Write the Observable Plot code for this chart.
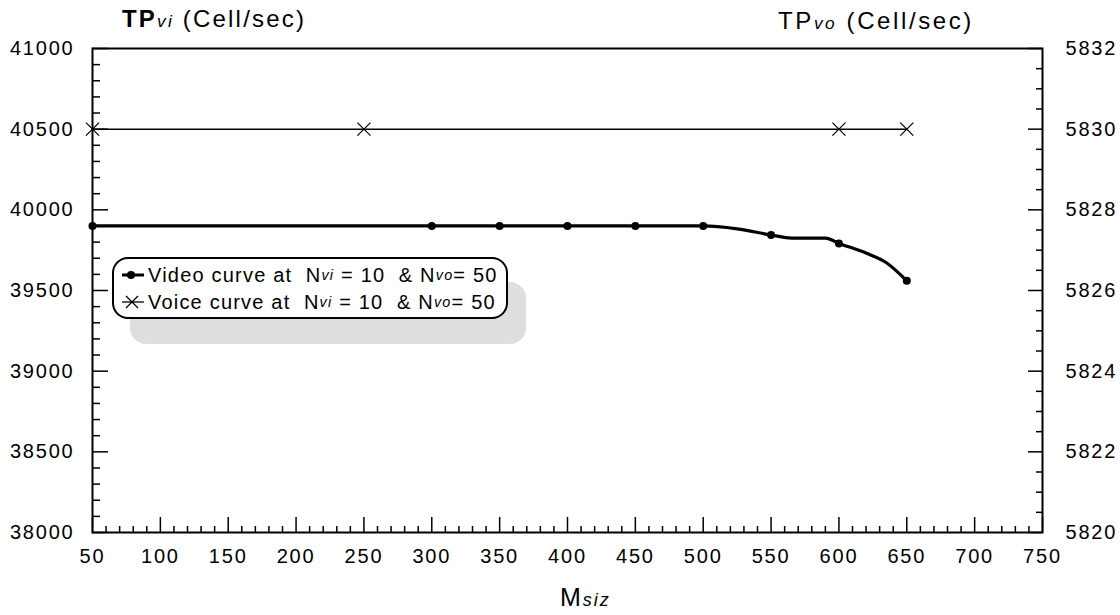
<!DOCTYPE html>
<html>
<head>
<meta charset="utf-8">
<script src="https://cdn.jsdelivr.net/npm/d3@7"></script>
<script src="https://cdn.jsdelivr.net/npm/@observablehq/plot@0.6"></script>
<style>
  html, body { margin: 0; padding: 0; background: #fff; }
  #wrap { position: relative; width: 1120px; height: 615px; font-family: "Liberation Sans", Arial, sans-serif; color: #000; }
  #wrap svg text { letter-spacing: 1.8px; }
  .ov { position: absolute; white-space: nowrap; line-height: 1; }
  .sub { font-style: italic; font-size: 0.72em; }
  #legend { position: absolute; left: 112px; top: 257px; width: 392px; height: 58px; border: 2px solid #000; border-radius: 16px; background: #fff; box-shadow: 18px 25px 0 #dedede; font-size: 20px; letter-spacing: 1.2px; }
  .lrow { position: absolute; left: 6px; height: 26px; display: flex; align-items: center; }
  .lrow svg { margin-right: 2px; }
</style>
</head>
<body>
<div id="wrap"></div>
<script>
// ---- data ----
const videoMarkX = [50, 300, 350, 400, 450, 500, 550, 600, 650];
const videoMarkY = [39900, 39900, 39900, 39900, 39900, 39900, 39844, 39792, 39560];
const videoLineX = [50, 300, 350, 400, 450, 500, 525, 550, 565, 590, 600, 620, 635, 650];
const videoLineY = [39900, 39900, 39900, 39900, 39900, 39900, 39882, 39844, 39825, 39825, 39792, 39732, 39672, 39560];
const voiceX = [50, 250, 600, 650];
const voiceY = [5830, 5830, 5830, 5830];
const xTicks = [50, 100, 150, 200, 250, 300, 350, 400, 450, 500, 550, 600, 650, 700, 750];
const leftTicks = [38000, 38500, 39000, 39500, 40000, 40500, 41000];
const rightTicks = [5820, 5822, 5824, 5826, 5828, 5830, 5832];

// right axis mapped onto left scale
const r2l = d3.scaleLinear([5820, 5832], [38000, 41000]);
const l2r = r2l.invert;

const W = 1120, H = 615;
const mL = 92, mR = 78, mT = 48, mB = 83;
const innerW = W - mL - mR, innerH = H - mT - mB;

const xMinor = d3.range(50, 751, 10).filter(v => v % 50 !== 0);
const leftMinor = d3.range(38000, 41001, 100).filter(v => v % 500 !== 0);
const rightMinor = d3.range(5820, 5832.01, 0.5).filter(v => Math.abs(v % 2) > 1e-9);

const video = videoLineX.map((x, i) => ({x, y: videoLineY[i]}));
const videoPts = videoMarkX.map((x, i) => ({x, y: videoMarkY[i]}));
const voice = voiceX.map((x, i) => ({x, y: r2l(voiceY[i])}));

const font = "Liberation Sans, Arial, sans-serif";

const chart = Plot.plot({
  width: W, height: H,
  marginLeft: mL, marginRight: mR, marginTop: mT, marginBottom: mB,
  style: {fontFamily: font, fontSize: "20px", background: "#fff", color: "#000"},
  x: {domain: [50, 750], axis: null},
  y: {domain: [38000, 41000], axis: null},
  marks: [
    // ticks (inside)
    Plot.tickX(xTicks, {x: d => d, insetTop: innerH - 15, strokeWidth: 1.5}),
    Plot.tickX(xMinor, {x: d => d, insetTop: innerH - 6, strokeWidth: 1.5}),
    Plot.tickY(leftTicks, {y: d => d, insetRight: innerW - 16, strokeWidth: 1.5}),
    Plot.tickY(leftMinor, {y: d => d, insetRight: innerW - 8, strokeWidth: 1.5}),
    Plot.tickY(rightTicks.map(r2l), {y: d => d, insetLeft: innerW - 14, strokeWidth: 1.5}),
    Plot.tickY(rightMinor.map(r2l), {y: d => d, insetLeft: innerW - 6, strokeWidth: 1.5}),
    // axis labels
    Plot.axisX({ticks: xTicks, tickSize: 0, tickPadding: 16, tickFormat: d => String(d), fontSize: 20, anchor: "bottom", label: null}),
    Plot.axisY({ticks: leftTicks, tickSize: 0, tickPadding: 18, tickFormat: d => String(d), fontSize: 20, anchor: "left", label: null}),
    Plot.axisY({ticks: rightTicks.map(r2l), tickSize: 0, tickPadding: 23, tickFormat: d => String(Math.round(l2r(d))), fontSize: 20, anchor: "right", label: null}),
    Plot.frame({stroke: "#000", strokeWidth: 2}),
    // voice
    Plot.line(voice, {x: "x", y: "y", stroke: "#000", strokeWidth: 1.5}),
    Plot.dot(voice, {x: "x", y: "y", symbol: "times", r: 6, stroke: "#000", strokeWidth: 1.2}),
    // video
    Plot.line(video, {x: "x", y: "y", stroke: "#000", strokeWidth: 3.2, curve: "monotone-x"}),
    Plot.dot(videoPts, {x: "x", y: "y", r: 4, fill: "#000", stroke: "none"})
  ]
});

const wrap = document.getElementById("wrap");
wrap.appendChild(chart);

const videoIcon = '<svg width="26" height="20"><line x1="2" y1="10" x2="24" y2="10" stroke="#000" stroke-width="3"/><circle cx="11" cy="10" r="4" fill="#000"/></svg>';
const voiceIcon = '<svg width="26" height="20"><line x1="2" y1="10" x2="24" y2="10" stroke="#000" stroke-width="1.3"/><path d="M6,4L18,16M18,4L6,16" stroke="#000" stroke-width="1.3"/></svg>';

wrap.insertAdjacentHTML("beforeend", `
  <div class="ov" style="left:122px; top:7px; font-size:24px; letter-spacing:2.2px;"><b>TP</b><span class="sub">vi</span> (Cell/sec)</div>
  <div class="ov" style="left:778px; top:9px; font-size:24px; letter-spacing:2.6px;">TP<span class="sub">vo</span> (Cell/sec)</div>
  <div class="ov" style="left:560px; top:585px; font-size:25px; letter-spacing:2px;">M<span class="sub">siz</span></div>
  <div id="legend">
    <div class="lrow" style="top:3px;">${videoIcon}Video curve at&nbsp; N<span class="sub">vi</span>&nbsp;= 10 &nbsp;&amp; N<span class="sub">vo</span>= 50</div>
    <div class="lrow" style="top:30px;">${voiceIcon}Voice curve at&nbsp; N<span class="sub">vi</span>&nbsp;= 10 &nbsp;&amp; N<span class="sub">vo</span>= 50</div>
  </div>
`);
</script>
</body>
</html>
